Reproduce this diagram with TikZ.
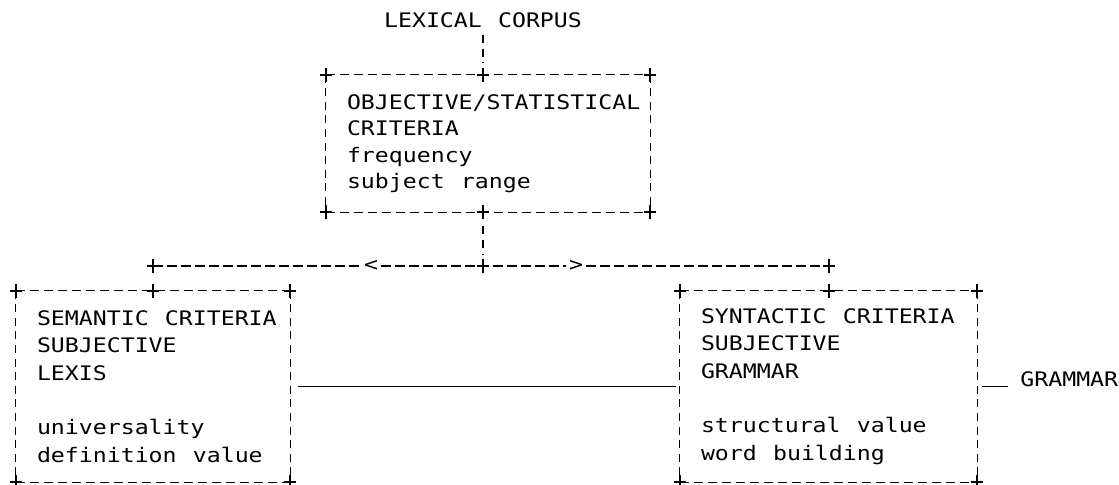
\documentclass[tikz,border=0pt]{standalone}
\usepackage{fontspec}
\newfontfamily\plotfont[FakeStretch=1.16,WordSpace=1.16,HyphenChar=None]{DejaVu Sans Mono}
\usetikzlibrary{positioning}
\newcommand\plusmark[1]{\draw[line width=1pt] (#1) +(-6,0) -- +(6,0) +(0,-7) -- +(0,7);}
\newcommand\dashframe[1]{%
  \draw[rowline] (#1.north west) -- (#1.north east) (#1.south west) -- (#1.south east);
  \draw[colline] (#1.north west) -- (#1.south west) (#1.north east) -- (#1.south east);}

\begin{document}
\begin{tikzpicture}[x=0.5pt,y=-0.5pt,
    every node/.style={font=\plotfont\fontsize{10}{13.25}\selectfont,inner sep=0pt},
    rowline/.style={line width=0.85pt,dash pattern=on 4.8pt off 2.2pt},
    colline/.style={line width=0.85pt,dash pattern=on 4pt off 2.8pt},
    critbox/.style={inner xsep=10.5pt,inner ysep=0pt,align=left,
      execute at begin node={\spaceskip=\fontdimen2\font\relax}},
    tip/.style={fill=white,inner sep=1.5pt}
  ]
  \useasboundingbox (0,0) rectangle (1119,484);

  \node (lex) at (483,20) {LEXICAL CORPUS};
  \node[critbox,minimum width=162pt,minimum height=68.5pt,text width=141pt] (obj) at (488,143.5)
    {OBJECTIVE/STATISTICAL\\CRITERIA\\frequency\\subject range};
  \node[critbox,minimum width=137pt,minimum height=95.5pt,text width=116pt,
    font=\plotfont\fontsize{10}{13.65}\selectfont] (sem) at (153,386.5)
    {SEMANTIC~CRITERIA\\SUBJECTIVE\\LEXIS\\[13.65pt]universality\\definition value};
  \node[critbox,minimum width=148.5pt,minimum height=95.5pt,text width=127.5pt,
    font=\plotfont\fontsize{10}{13.65}\selectfont] (syn) at (828.5,386.5)
    {SYNTACTIC~CRITERIA\\SUBJECTIVE\\GRAMMAR\\[13.65pt]structural value\\word building};
  \node[anchor=base west] (gram) at (1020,386) {GRAMMAR};

  \coordinate (split) at (483,266);
  \coordinate (lend) at (sem.north |- split);
  \coordinate (rend) at (syn.north |- split);
  \node[tip] (lt) at (371,266) {<};
  \node[tip] (gt) at (576,266) {>};

  \dashframe{obj}
  \dashframe{sem}
  \dashframe{syn}

  % connectors
  \draw[colline] ([yshift=-3.5pt]lex.south) -- ([yshift=6pt]lex.south |- obj.north);
  \draw[colline] ([yshift=-7pt]obj.south -| lex) -- ([yshift=5.5pt]split);
  \draw[rowline] (lend) -- (lt) -- (split) -- (gt) -- (rend);
  \draw[line width=0.85pt] ([xshift=4pt]sem.east) -- ([xshift=-2pt]syn.west);
  \draw[line width=0.85pt] ([xshift=2.5pt]syn.east) -- ([xshift=-6pt]syn.east -| gram.west);

  \foreach \p in {obj.north west,obj.north east,obj.south west,obj.south east,
    sem.north west,sem.north east,sem.south west,sem.south east,sem.north,
    syn.north west,syn.north east,syn.south west,syn.south east,syn.north,
    lend,rend,split}
    {\plusmark{\p}}
  \plusmark{lex |- obj.north}
  \plusmark{lex |- obj.south}
\end{tikzpicture}
\end{document}
